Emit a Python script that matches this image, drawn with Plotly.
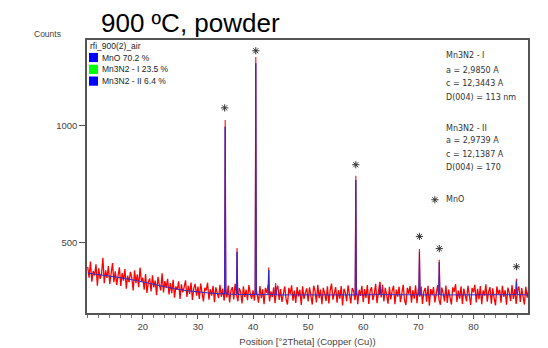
import numpy as np
import plotly.graph_objects as go

# ---------------- data ----------------
scan_start, scan_step = 10.0, 0.25
obs_counts = [
    398, 352, 421, 335, 380, 362, 409, 318, 392, 347, 366, 437, 329, 384, 351, 402, 326, 371, 415, 333,
    379, 322, 358, 396, 317, 372, 340, 389, 305, 361, 333, 377, 352, 298, 384, 329, 366, 312, 395, 336,
    352, 301, 368, 287, 333, 349, 294, 362, 311, 340, 278, 356, 322, 298, 371, 290, 338, 309, 347, 281,
    329, 286, 343, 267, 315, 301, 337, 262, 324, 290, 312, 341, 270, 318, 283, 332, 258, 307, 326, 276,
    314, 262, 327, 285, 251, 309, 298, 331, 259, 303, 276, 318, 248, 311, 290, 265, 322, 271, 306, 255,
    305, 268, 319, 247, 297, 312, 260, 326, 281, 252, 308, 292, 243, 316, 270, 301, 257, 321, 284, 262,
    298, 255, 313, 279, 246, 317, 265, 303, 240, 309, 288, 322, 251, 294, 270, 311, 244, 300, 318, 258,
    304, 249, 290, 315, 262, 238, 309, 283, 320, 254, 297, 245, 312, 273, 301, 236, 316, 262, 289, 307,
    251, 311, 276, 238, 318, 296, 247, 322, 265, 302, 240, 309, 286, 253, 316, 243, 298, 327, 259, 281,
    312, 246, 299, 263, 317, 234, 305, 288, 252, 320, 271, 243, 308, 296, 257, 314, 239, 301, 275, 318,
    248, 304, 266, 321, 241, 295, 312, 257, 283, 326, 244, 305, 334, 268, 322, 251, 309, 279, 242, 313,
    260, 297, 318, 239, 301, 272, 314, 248, 290, 322, 255, 236, 309, 284, 317, 246, 299, 263, 320, 244,
    306, 272, 315, 241, 293, 309, 250, 318, 233, 304, 279, 312, 247, 296, 321, 258, 237, 310, 287, 251,
    319, 245, 302, 268, 238, 311, 292, 325, 249, 297, 263, 316, 240, 306, 284, 252, 318, 272, 236, 309,
    290, 322, 247, 305, 261, 317, 239, 298, 276, 324, 250, 293, 312, 242, 307, 266, 234, 315, 282, 301,
    246, 318, 271, 299, 237, 310, 288, 253, 321, 262, 304, 241, 296, 315, 249, 308, 276, 238, 314, 267,
    299,
]
calc_theta = [10, 12, 14, 16, 18, 20, 22, 24, 26, 28, 30, 32, 34, 36, 38, 40, 42, 46, 48, 50,
              52, 54, 56, 60, 62, 64, 66, 68, 72, 76, 78, 80, 82, 84, 86, 90]
calc_bg = [372, 366, 359, 352, 344, 334, 323, 313, 304, 297, 291, 287, 284, 282, 281, 280, 280, 279, 279, 279,
           279, 279, 279, 279, 280, 280, 279, 279, 279, 279, 279, 279, 279, 280, 280, 279]

peak_pos = [34.95, 37.1, 40.5, 42.85, 44.1, 58.65, 63.05, 70.2, 73.8, 87.8]
peak_obs = [1024, 479, 1292, 396, 330, 786, 335, 474, 429, 348]
peak_calc = [995, 462, 1265, 385, 318, 768, 320, 462, 418, 338]
peak_base = [283, 281, 280, 280, 279, 279, 280, 279, 279, 280]

star_pos = [34.85, 40.5, 58.65, 70.2, 73.8, 87.8]
star_y = [1075, 1318, 833, 528, 476, 399]

legend_names = ["MnO 70.2 %", "Mn3N2 - I 23.5 %", "Mn3N2 - II 6.4 %"]
legend_colors = ["#0000ff", "#00ff00", "#0000ff"]

info_lines = ["Mn3N2 - I", "a = 2,9850 A", "c = 12,3443 A", "D(004) = 113 nm",
              "Mn3N2 - II", "a = 2,9739 A", "c = 12,1387 A", "D(004) = 170"]
info_y = [1297, 1234, 1180, 1121, 987, 935, 878, 821]

x_ticks = [20, 30, 40, 50, 60, 70, 80]
y_ticks = [500, 1000]

# ---------------- build ----------------
theta_obs = np.round(scan_start + scan_step * np.arange(len(obs_counts)), 3)
pw = 0.12
spx, spy = [], []
for p, t, b in zip(peak_pos, peak_obs, peak_base):
    spx += [p - pw, p, p + pw, None]
    spy += [b, t, b, None]

cpts = list(zip(calc_theta, calc_bg))
for p, t, b in zip(peak_pos, peak_calc, peak_base):
    cpts += [(p - pw, b), (p, t), (p + pw, b)]
cpts.sort(key=lambda v: v[0])
cx = [v[0] for v in cpts]
cy = [v[1] for v in cpts]

fig = go.Figure()
fig.add_trace(go.Scatter(x=theta_obs, y=obs_counts, mode="lines",
                         line=dict(color="#ff0000", width=1.3), hoverinfo="skip"))
fig.add_trace(go.Scatter(x=spx, y=spy, mode="lines",
                         line=dict(color="#ff2020", width=1.2), hoverinfo="skip"))
fig.add_trace(go.Scatter(x=cx, y=cy, mode="lines",
                         line=dict(color="#2a2ad0", width=1), hoverinfo="skip"))
fig.add_trace(go.Scatter(x=star_pos, y=star_y, mode="markers",
                         marker=dict(symbol="asterisk-open", size=6, color="#333",
                                     line=dict(color="#333", width=1)), hoverinfo="skip"))

font = "Liberation Sans, Arial, sans-serif"
W, H = 548, 348
L, R, T, B = 87, 20, 40, 35
pw_px = W - L - R
ph_px = H - T - B


def px(xp):
    return (xp - L) / pw_px


def py(yp):
    return 1 - (yp - T) / ph_px


ann = []
ann.append(dict(text="900 ºC, powder", x=px(99), y=py(23.5), xref="paper", yref="paper",
                xanchor="left", yanchor="middle", showarrow=False,
                font=dict(family=font, size=26, color="#000")))
ann.append(dict(text="Counts", x=px(31.5), y=py(34.3), xref="paper", yref="paper",
                xanchor="left", yanchor="middle", showarrow=False,
                font=dict(family=font, size=8.5, color="#444")))
ann.append(dict(text="rfi_900(2)_air", x=px(88), y=py(45.7), xref="paper", yref="paper",
                xanchor="left", yanchor="middle", showarrow=False,
                font=dict(family=font, size=8.5, color="#222")))
shapes = []
for i, (n, c) in enumerate(zip(legend_names, legend_colors)):
    yc = 57.5 + 11.8 * i
    shapes.append(dict(type="rect", xref="paper", yref="paper",
                       x0=px(89), x1=px(98), y0=py(yc - 4.6), y1=py(yc + 4.6),
                       fillcolor=c, line=dict(width=0)))
    ann.append(dict(text=n, x=px(100), y=py(yc), xref="paper", yref="paper",
                    xanchor="left", yanchor="middle", showarrow=False,
                    font=dict(family=font, size=8.5, color="#222")))

for t, yv in zip(info_lines, info_y):
    ann.append(dict(text=t, x=74.7, y=yv, xref="x", yref="y", xanchor="left", yanchor="middle",
                    showarrow=False, font=dict(family="DejaVu Sans, sans-serif", size=8, color="#333")))
ann.append(dict(text="MnO", x=74.7, y=684, xref="x", yref="y", xanchor="left", yanchor="middle",
                showarrow=False, font=dict(family="DejaVu Sans, sans-serif", size=8, color="#333")))
fig.add_trace(go.Scatter(x=[73.0], y=[684], mode="markers",
                         marker=dict(symbol="asterisk-open", size=6, color="#333",
                                     line=dict(color="#333", width=1)), hoverinfo="skip"))

fig.update_layout(
    width=W, height=H, margin=dict(l=L, r=R, t=T, b=B),
    paper_bgcolor="white", plot_bgcolor="white", showlegend=False,
    annotations=ann, shapes=shapes,
    font=dict(family=font, size=9.5, color="#444"),
)
fig.update_xaxes(range=[9.87, 89.9], tickvals=x_ticks, ticks="outside", ticklen=4,
                 tickcolor="#555", showgrid=False, zeroline=False, showline=True,
                 linecolor="#555", linewidth=1.5, mirror=True, automargin=False,
                 minor=dict(dtick=2, tick0=0, ticks="outside", ticklen=3, tickcolor="#777", showgrid=False),
                 title=dict(text="Position [°2Theta] (Copper (Cu))", standoff=7,
                            font=dict(family=font, size=9.5, color="#444")),
                 tickfont=dict(family=font, size=9.5, color="#444"))
fig.update_yaxes(range=[202, 1364], tickvals=y_ticks, ticks="outside", ticklen=6,
                 tickcolor="#555", showgrid=False, zeroline=False, showline=True,
                 linecolor="#555", linewidth=1.5, mirror=True, automargin=False,
                 tickfont=dict(family=font, size=9.5, color="#444"))

fig.write_html("out.html")
